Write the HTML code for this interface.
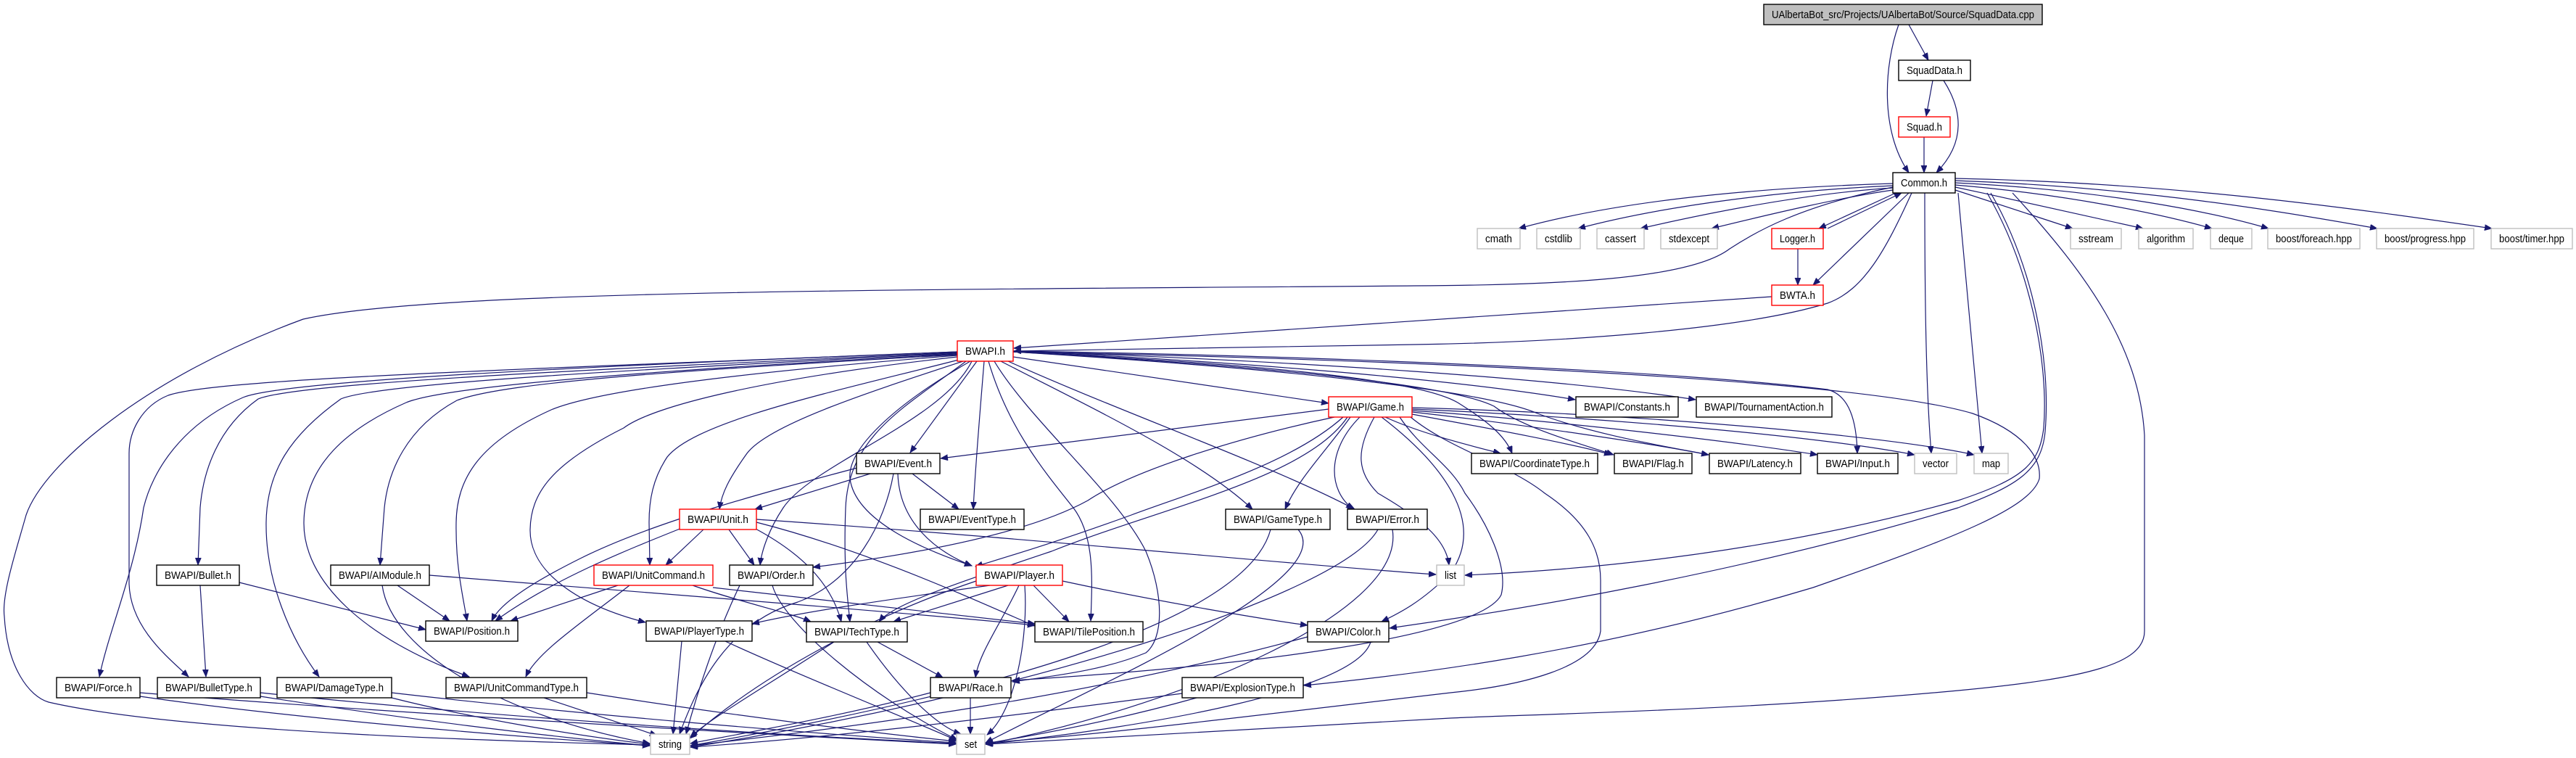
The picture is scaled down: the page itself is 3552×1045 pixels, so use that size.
<!DOCTYPE html>
<html><head><meta charset="utf-8"><style>
html,body{margin:0;padding:0;background:#fff;}
svg{display:block;}
.e{fill:none;stroke:#191970;stroke-width:1.2;marker-end:url(#a);}
.n rect{fill:#fff;stroke:#000;stroke-width:1.4;}
.n.r rect{stroke:#ff0000;}
.n.g rect{stroke:#bfbfbf;}
.n.root rect{fill:#bfbfbf;stroke:#000;}
text{font-family:"Liberation Sans",Arial,sans-serif;font-size:15px;fill:#000;text-anchor:middle;}
</style></head><body>
<svg width="3552" height="1045" viewBox="0 0 3552 1045" xmlns="http://www.w3.org/2000/svg">
<defs><marker id="a" markerUnits="userSpaceOnUse" markerWidth="11" markerHeight="9" refX="10" refY="4" orient="auto"><path d="M0,0 L10,4 L0,8 z" fill="#191970" stroke="#191970" stroke-width="0.8"/></marker></defs>
<g>
<path class="e" d="M2632,34 L2659,83"/>
<path class="e" d="M2618,34 C2598,90 2592,180 2632,238"/>
<path class="e" d="M2665,111 L2656,160"/>
<path class="e" d="M2680,111 C2705,150 2712,195 2670,238"/>
<path class="e" d="M2653,189 L2653,238"/>
<path class="e" d="M2610,253 C2450,258 2250,272 2094,315"/>
<path class="e" d="M2610,256 C2470,262 2300,282 2176,315"/>
<path class="e" d="M2610,259 C2500,266 2380,288 2262,315"/>
<path class="e" d="M2610,262 C2540,272 2450,293 2360,315"/>
<path class="e" d="M2614,266 L2508,315"/>
<path class="e" d="M2520,315 L2622,266"/>
<path class="e" d="M2632,266 L2500,393"/>
<path class="e" d="M2479,343 L2479,393"/>
<path class="e" d="M2443,409 L1398,480"/>
<path class="e" d="M2636,266 C2600,345 2570,400 2520,418 C2400,455 2150,472 1950,475 L1398,484"/>
<path class="e" d="M2696,262 L2858,315"/>
<path class="e" d="M2696,258 C2790,278 2890,300 2955,315"/>
<path class="e" d="M2696,255 C2850,268 2980,295 3050,315"/>
<path class="e" d="M2696,252 C2900,262 3050,292 3128,315"/>
<path class="e" d="M2696,249 C2950,258 3150,292 3278,315"/>
<path class="e" d="M2696,246 C3000,252 3250,288 3436,315"/>
<path class="e" d="M2654,266 C2654,420 2656,540 2663,625"/>
<path class="e" d="M2700,266 C2712,400 2725,540 2733,625"/>
<path class="e" d="M2740,266 C2800,370 2825,500 2818,590 C2812,640 2790,660 2700,690 C2450,760 2200,785 2020,793"/>
<path class="e" d="M2745,266 C2805,370 2828,500 2820,595 C2815,650 2780,670 2700,700 C2400,790 2100,840 1916,866"/>
<path class="e" d="M2775,266 C2880,380 2950,480 2957,600 L2957,870 C2957,915 2880,935 2700,952 C2400,980 2100,985 2000,990 C1700,1005 1500,1020 1359,1026"/>
<path class="e" d="M2610,258 C2480,285 2420,320 2385,343 C2330,385 2150,393 1950,394 C1200,400 600,400 418,440 C200,520 60,640 36,710 C22,760 2,820 6,850 C10,920 40,960 67,968 C250,1010 700,1022 896,1027"/>
<path class="e" d="M1397,485 C1900,495 2550,520 2720,570 C2790,595 2815,630 2812,660 C2800,700 2700,740 2500,810 C2200,900 1950,930 1798,945"/>
<path class="e" d="M1320,485 C800,505 390,525 335,548 C250,585 210,650 198,700 C185,790 150,870 137,933"/>
<path class="e" d="M1320,485 C700,510 300,522 232,545 C195,560 178,595 178,625 L178,805 C180,865 230,905 260,933"/>
<path class="e" d="M1320,486 C800,510 410,528 356,550 C300,590 280,650 276,700 L273,779"/>
<path class="e" d="M1320,487 C900,508 520,528 470,550 C400,600 368,650 367,720 C366,800 400,880 440,933"/>
<path class="e" d="M1320,488 C950,508 620,530 560,555 C480,590 420,640 419,720 C418,800 500,880 647,933"/>
<path class="e" d="M1320,489 C950,510 700,526 630,552 C560,590 535,650 530,700 L524,779"/>
<path class="e" d="M1320,490 C1000,515 820,540 760,565 C660,610 630,660 629,720 C628,780 638,820 644,856"/>
<path class="e" d="M1320,492 C1050,522 900,560 860,590 C760,640 732,680 731,730 C730,790 800,835 890,858"/>
<path class="e" d="M1322,496 C1150,540 960,580 920,630 C900,660 895,690 895,720 L896,779"/>
<path class="e" d="M1328,498 C1200,540 1060,585 1030,625 C1005,660 995,680 992,702"/>
<path class="e" d="M1340,498 C1300,580 1120,640 1080,700 C1060,730 1050,760 1048,779"/>
<path class="e" d="M1332,498 C1250,560 1170,600 1166,700 C1163,780 1168,820 1172,857"/>
<path class="e" d="M1338,498 C1230,560 1168,620 1172,660 C1180,720 1280,760 1340,780"/>
<path class="e" d="M1347,498 L1255,624"/>
<path class="e" d="M1357,498 C1352,560 1345,640 1342,702"/>
<path class="e" d="M1363,498 C1390,590 1440,650 1480,700 C1510,740 1506,800 1504,856"/>
<path class="e" d="M1371,498 C1420,580 1540,680 1580,760 C1605,820 1605,880 1580,900 C1520,925 1450,932 1396,940"/>
<path class="e" d="M1380,498 C1500,560 1650,630 1727,702"/>
<path class="e" d="M1390,498 C1550,570 1750,640 1868,702"/>
<path class="e" d="M1397,492 L1832,556"/>
<path class="e" d="M1397,484 C1700,498 2000,522 2172,551"/>
<path class="e" d="M1397,484 C1800,498 2150,522 2338,551"/>
<path class="e" d="M1397,485 C1700,500 1950,520 2010,555 C2050,580 2075,600 2085,625"/>
<path class="e" d="M1397,485 C1750,505 2000,530 2060,560 C2100,590 2180,612 2225,627"/>
<path class="e" d="M1397,485 C1800,510 2050,540 2120,570 C2200,600 2300,616 2356,627"/>
<path class="e" d="M1397,484 C1800,490 2300,510 2520,537 C2550,545 2560,580 2561,625"/>
<path class="e" d="M1832,564 L1297,632"/>
<path class="e" d="M1910,575 C1960,598 2030,615 2069,625"/>
<path class="e" d="M1947,571 C2050,590 2170,612 2222,627"/>
<path class="e" d="M1947,568 C2100,585 2280,612 2356,627"/>
<path class="e" d="M1947,566 C2150,580 2400,610 2506,627"/>
<path class="e" d="M1947,564 C2200,575 2500,600 2640,627"/>
<path class="e" d="M1947,562 C2250,570 2600,600 2722,627"/>
<path class="e" d="M1862,575 C1830,620 1790,660 1772,702"/>
<path class="e" d="M1875,575 C1830,620 1830,675 1866,702"/>
<path class="e" d="M1840,575 C1700,605 1560,650 1500,690 C1400,745 1200,772 1121,782"/>
<path class="e" d="M1852,575 C1780,640 1640,680 1560,710 C1450,750 1380,770 1345,781"/>
<path class="e" d="M1858,575 C1800,660 1600,700 1450,760 C1300,810 1230,835 1212,857"/>
<path class="e" d="M1895,575 C1870,620 1870,650 1900,680 C1970,720 1995,750 1998,779"/>
<path class="e" d="M1930,575 C1960,620 2000,640 2020,680 C2050,720 2080,780 2070,820 C2040,880 1700,920 1396,938"/>
<path class="e" d="M1945,575 C2000,620 2080,640 2130,680 C2190,720 2207,760 2207,800 L2207,870 C2200,920 2100,945 2000,955 C1700,990 1500,1015 1359,1024"/>
<path class="e" d="M1905,575 C1990,640 2050,720 2000,790 C1960,830 1930,845 1905,857"/>
<path class="e" d="M1200,653 L1041,702"/>
<path class="e" d="M1258,653 L1322,702"/>
<path class="e" d="M1238,653 C1240,720 1290,760 1340,780"/>
<path class="e" d="M1182,645 C1050,680 900,720 800,770 C740,800 690,830 678,856"/>
<path class="e" d="M1232,653 C1220,720 1180,800 1100,830 C1000,860 960,950 937,1012"/>
<path class="e" d="M1005,730 L1040,779"/>
<path class="e" d="M970,730 L918,779"/>
<path class="e" d="M940,728 C860,760 760,800 683,856"/>
<path class="e" d="M1040,728 C1100,760 1145,800 1160,857"/>
<path class="e" d="M1043,720 C1200,760 1350,830 1427,863"/>
<path class="e" d="M1043,716 C1400,740 1800,780 1980,792"/>
<path class="e" d="M852,807 L704,856"/>
<path class="e" d="M868,807 C800,860 740,900 725,933"/>
<path class="e" d="M955,807 C1020,830 1090,845 1118,857"/>
<path class="e" d="M983,810 C1150,830 1300,845 1427,860"/>
<path class="e" d="M1065,807 C1080,860 1200,960 1320,1020"/>
<path class="e" d="M1020,807 C985,880 960,960 946,1012"/>
<path class="e" d="M1365,807 C1200,830 1100,845 1037,860"/>
<path class="e" d="M1390,807 L1232,857"/>
<path class="e" d="M1405,807 C1380,860 1350,900 1345,934"/>
<path class="e" d="M1413,807 C1418,880 1400,980 1361,1013"/>
<path class="e" d="M1425,807 L1474,857"/>
<path class="e" d="M1465,801 C1600,830 1750,855 1803,862"/>
<path class="e" d="M1346,801 C1200,850 1050,930 951,1018"/>
<path class="e" d="M940,884 L928,1012"/>
<path class="e" d="M1000,884 C1100,930 1250,990 1320,1021"/>
<path class="e" d="M1150,885 C1050,950 980,990 952,1016"/>
<path class="e" d="M1210,885 L1300,934"/>
<path class="e" d="M1195,885 C1240,950 1290,1000 1325,1012"/>
<path class="e" d="M1338,962 L1338,1012"/>
<path class="e" d="M1283,955 C1150,990 1000,1015 952,1025"/>
<path class="e" d="M1890,885 C1870,950 1600,1000 1359,1026"/>
<path class="e" d="M1803,878 C1500,960 1200,1000 952,1028"/>
<path class="e" d="M1650,962 C1550,990 1450,1010 1359,1025"/>
<path class="e" d="M1630,956 C1300,1000 1100,1020 952,1030"/>
<path class="e" d="M1752,730 C1720,850 1400,950 952,1028"/>
<path class="e" d="M1790,730 C1850,800 1500,950 1359,1024"/>
<path class="e" d="M1900,730 C1850,820 1400,960 952,1030"/>
<path class="e" d="M1920,730 C1940,850 1600,980 1359,1026"/>
<path class="e" d="M330,803 L587,868"/>
<path class="e" d="M276,807 L284,933"/>
<path class="e" d="M548,807 L620,856"/>
<path class="e" d="M527,807 C540,900 700,990 896,1025"/>
<path class="e" d="M592,793 C800,810 1200,840 1427,862"/>
<path class="e" d="M193,960 C400,990 700,1015 896,1028"/>
<path class="e" d="M193,955 C500,980 1000,1010 1318,1026"/>
<path class="e" d="M359,960 C550,990 750,1015 896,1028"/>
<path class="e" d="M359,955 C650,985 1000,1010 1318,1025"/>
<path class="e" d="M540,962 C650,990 800,1015 896,1026"/>
<path class="e" d="M540,955 C800,985 1100,1010 1318,1024"/>
<path class="e" d="M750,962 L906,1014"/>
<path class="e" d="M809,955 C1000,985 1200,1010 1318,1022"/>
</g>
<g>
<g class="n root"><rect x="2432" y="6" width="384" height="28"/><text x="2624" y="25" textLength="362" lengthAdjust="spacingAndGlyphs">UAlbertaBot_src/Projects/UAlbertaBot/Source/SquadData.cpp</text></g>
<g class="n"><rect x="2618" y="83" width="99" height="28"/><text x="2667.5" y="102" textLength="77" lengthAdjust="spacingAndGlyphs">SquadData.h</text></g>
<g class="n r"><rect x="2618" y="161" width="71" height="28"/><text x="2653.5" y="180" textLength="49" lengthAdjust="spacingAndGlyphs">Squad.h</text></g>
<g class="n"><rect x="2610" y="238" width="86" height="28"/><text x="2653" y="257" textLength="64" lengthAdjust="spacingAndGlyphs">Common.h</text></g>
<g class="n g"><rect x="2037" y="315" width="59" height="28"/><text x="2066.5" y="334" textLength="37" lengthAdjust="spacingAndGlyphs">cmath</text></g>
<g class="n g"><rect x="2119" y="315" width="60" height="28"/><text x="2149" y="334" textLength="38" lengthAdjust="spacingAndGlyphs">cstdlib</text></g>
<g class="n g"><rect x="2202" y="315" width="65" height="28"/><text x="2234.5" y="334" textLength="43" lengthAdjust="spacingAndGlyphs">cassert</text></g>
<g class="n g"><rect x="2290" y="315" width="78" height="28"/><text x="2329" y="334" textLength="56" lengthAdjust="spacingAndGlyphs">stdexcept</text></g>
<g class="n r"><rect x="2443" y="315" width="71" height="28"/><text x="2478.5" y="334" textLength="49" lengthAdjust="spacingAndGlyphs">Logger.h</text></g>
<g class="n g"><rect x="2855" y="315" width="70" height="28"/><text x="2890" y="334" textLength="48" lengthAdjust="spacingAndGlyphs">sstream</text></g>
<g class="n g"><rect x="2949" y="315" width="75" height="28"/><text x="2986.5" y="334" textLength="53" lengthAdjust="spacingAndGlyphs">algorithm</text></g>
<g class="n g"><rect x="3048" y="315" width="57" height="28"/><text x="3076.5" y="334" textLength="35" lengthAdjust="spacingAndGlyphs">deque</text></g>
<g class="n g"><rect x="3127" y="315" width="127" height="28"/><text x="3190.5" y="334" textLength="105" lengthAdjust="spacingAndGlyphs">boost/foreach.hpp</text></g>
<g class="n g"><rect x="3277" y="315" width="134" height="28"/><text x="3344" y="334" textLength="112" lengthAdjust="spacingAndGlyphs">boost/progress.hpp</text></g>
<g class="n g"><rect x="3435" y="315" width="112" height="28"/><text x="3491" y="334" textLength="90" lengthAdjust="spacingAndGlyphs">boost/timer.hpp</text></g>
<g class="n r"><rect x="2443" y="393" width="71" height="28"/><text x="2478.5" y="412" textLength="49" lengthAdjust="spacingAndGlyphs">BWTA.h</text></g>
<g class="n r"><rect x="1320" y="470" width="77" height="28"/><text x="1358.5" y="489" textLength="55" lengthAdjust="spacingAndGlyphs">BWAPI.h</text></g>
<g class="n r"><rect x="1832" y="547" width="115" height="28"/><text x="1889.5" y="566" textLength="93" lengthAdjust="spacingAndGlyphs">BWAPI/Game.h</text></g>
<g class="n"><rect x="2173" y="547" width="141" height="28"/><text x="2243.5" y="566" textLength="119" lengthAdjust="spacingAndGlyphs">BWAPI/Constants.h</text></g>
<g class="n"><rect x="2339" y="547" width="187" height="28"/><text x="2432.5" y="566" textLength="165" lengthAdjust="spacingAndGlyphs">BWAPI/TournamentAction.h</text></g>
<g class="n"><rect x="1181" y="625" width="115" height="28"/><text x="1238.5" y="644" textLength="93" lengthAdjust="spacingAndGlyphs">BWAPI/Event.h</text></g>
<g class="n"><rect x="2029" y="625" width="174" height="28"/><text x="2116" y="644" textLength="152" lengthAdjust="spacingAndGlyphs">BWAPI/CoordinateType.h</text></g>
<g class="n"><rect x="2226" y="625" width="107" height="28"/><text x="2279.5" y="644" textLength="85" lengthAdjust="spacingAndGlyphs">BWAPI/Flag.h</text></g>
<g class="n"><rect x="2357" y="625" width="126" height="28"/><text x="2420" y="644" textLength="104" lengthAdjust="spacingAndGlyphs">BWAPI/Latency.h</text></g>
<g class="n"><rect x="2506" y="625" width="111" height="28"/><text x="2561.5" y="644" textLength="89" lengthAdjust="spacingAndGlyphs">BWAPI/Input.h</text></g>
<g class="n g"><rect x="2640" y="625" width="58" height="28"/><text x="2669" y="644" textLength="36" lengthAdjust="spacingAndGlyphs">vector</text></g>
<g class="n g"><rect x="2722" y="625" width="47" height="28"/><text x="2745.5" y="644" textLength="25" lengthAdjust="spacingAndGlyphs">map</text></g>
<g class="n r"><rect x="937" y="702" width="106" height="28"/><text x="990" y="721" textLength="84" lengthAdjust="spacingAndGlyphs">BWAPI/Unit.h</text></g>
<g class="n"><rect x="1269" y="702" width="143" height="28"/><text x="1340.5" y="721" textLength="121" lengthAdjust="spacingAndGlyphs">BWAPI/EventType.h</text></g>
<g class="n"><rect x="1690" y="702" width="144" height="28"/><text x="1762" y="721" textLength="122" lengthAdjust="spacingAndGlyphs">BWAPI/GameType.h</text></g>
<g class="n"><rect x="1858" y="702" width="110" height="28"/><text x="1913" y="721" textLength="88" lengthAdjust="spacingAndGlyphs">BWAPI/Error.h</text></g>
<g class="n"><rect x="216" y="779" width="114" height="28"/><text x="273" y="798" textLength="92" lengthAdjust="spacingAndGlyphs">BWAPI/Bullet.h</text></g>
<g class="n"><rect x="456" y="779" width="136" height="28"/><text x="524" y="798" textLength="114" lengthAdjust="spacingAndGlyphs">BWAPI/AIModule.h</text></g>
<g class="n r"><rect x="819" y="779" width="164" height="28"/><text x="901" y="798" textLength="142" lengthAdjust="spacingAndGlyphs">BWAPI/UnitCommand.h</text></g>
<g class="n"><rect x="1006" y="779" width="115" height="28"/><text x="1063.5" y="798" textLength="93" lengthAdjust="spacingAndGlyphs">BWAPI/Order.h</text></g>
<g class="n r"><rect x="1346" y="779" width="119" height="28"/><text x="1405.5" y="798" textLength="97" lengthAdjust="spacingAndGlyphs">BWAPI/Player.h</text></g>
<g class="n g"><rect x="1981" y="779" width="38" height="28"/><text x="2000" y="798" textLength="16" lengthAdjust="spacingAndGlyphs">list</text></g>
<g class="n"><rect x="587" y="856" width="127" height="28"/><text x="650.5" y="875" textLength="105" lengthAdjust="spacingAndGlyphs">BWAPI/Position.h</text></g>
<g class="n"><rect x="891" y="856" width="146" height="28"/><text x="964" y="875" textLength="124" lengthAdjust="spacingAndGlyphs">BWAPI/PlayerType.h</text></g>
<g class="n"><rect x="1112" y="857" width="139" height="28"/><text x="1181.5" y="876" textLength="117" lengthAdjust="spacingAndGlyphs">BWAPI/TechType.h</text></g>
<g class="n"><rect x="1427" y="857" width="149" height="28"/><text x="1501.5" y="876" textLength="127" lengthAdjust="spacingAndGlyphs">BWAPI/TilePosition.h</text></g>
<g class="n"><rect x="1803" y="857" width="112" height="28"/><text x="1859" y="876" textLength="90" lengthAdjust="spacingAndGlyphs">BWAPI/Color.h</text></g>
<g class="n"><rect x="78" y="934" width="115" height="28"/><text x="135.5" y="953" textLength="93" lengthAdjust="spacingAndGlyphs">BWAPI/Force.h</text></g>
<g class="n"><rect x="217" y="934" width="142" height="28"/><text x="288" y="953" textLength="120" lengthAdjust="spacingAndGlyphs">BWAPI/BulletType.h</text></g>
<g class="n"><rect x="382" y="934" width="158" height="28"/><text x="461" y="953" textLength="136" lengthAdjust="spacingAndGlyphs">BWAPI/DamageType.h</text></g>
<g class="n"><rect x="615" y="934" width="194" height="28"/><text x="712" y="953" textLength="172" lengthAdjust="spacingAndGlyphs">BWAPI/UnitCommandType.h</text></g>
<g class="n"><rect x="1283" y="934" width="111" height="28"/><text x="1338.5" y="953" textLength="89" lengthAdjust="spacingAndGlyphs">BWAPI/Race.h</text></g>
<g class="n"><rect x="1630" y="934" width="167" height="28"/><text x="1713.5" y="953" textLength="145" lengthAdjust="spacingAndGlyphs">BWAPI/ExplosionType.h</text></g>
<g class="n g"><rect x="897" y="1012" width="54" height="28"/><text x="924" y="1031" textLength="32" lengthAdjust="spacingAndGlyphs">string</text></g>
<g class="n g"><rect x="1319" y="1012" width="39" height="28"/><text x="1338.5" y="1031" textLength="17" lengthAdjust="spacingAndGlyphs">set</text></g>
</g>
</svg>
</body></html>
